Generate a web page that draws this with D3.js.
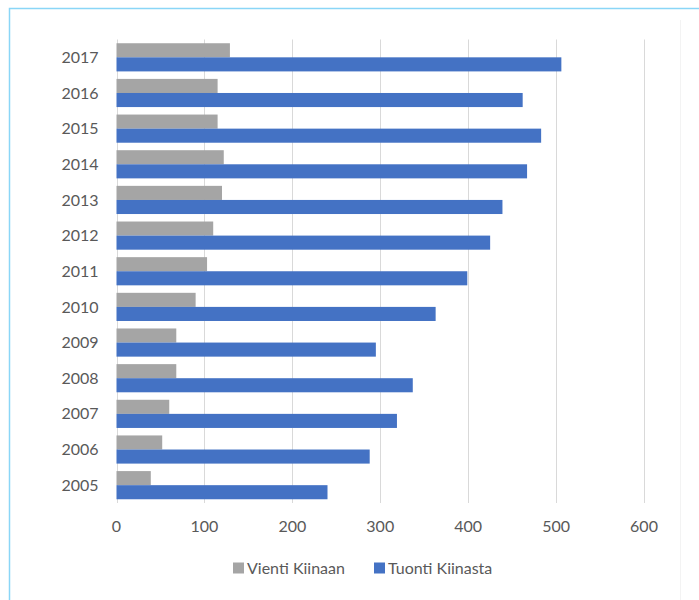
<!DOCTYPE html>
<html>
<head>
<meta charset="utf-8">
<script src="https://cdn.jsdelivr.net/npm/d3@7"></script>
<style>
  body { margin:0; background:#fff; }
  svg { display:block; }
</style>
</head>
<body>
<div id="chart"></div>
<script>
// years top to bottom, as in the picture
const years = ["2017","2016","2015","2014","2013","2012","2011","2010","2009","2008","2007","2006","2005"];
const vienti = [129, 115, 115, 122, 120, 110, 103, 90, 68, 68, 60, 52, 39];
const tuonti = [506, 462, 483, 467, 439, 425, 399, 363, 295, 337, 319, 288, 240];
const seriesNames = ["Vienti Kiinaan", "Tuonti Kiinasta"];
const seriesColors = ["#a5a5a5", "#4472c4"];
const xTicks = [0, 100, 200, 300, 400, 500, 600];

const W = 699, H = 600;
const font = "Lato, 'Open Sans', sans-serif";

const svg = d3.select("#chart").append("svg")
  .attr("width", W).attr("height", H);

// outer frame (only the top and left edges are in view)
svg.append("path")
  .attr("d", `M9.5,${H} V8.5 H${W}`)
  .attr("fill", "none")
  .attr("stroke", "#8ad6f7")
  .attr("stroke-width", 1.5);

svg.append("line")
  .attr("x1", 680.5).attr("x2", 680.5).attr("y1", 20).attr("y2", H)
  .attr("stroke", "#f3f3f3");

const x = d3.scaleLinear().domain([0, 600]).range([116.5, 644]);
const y = d3.scaleBand().domain(years).range([39.5, 503]).paddingInner(0.21).paddingOuter(0.105);
const ySub = d3.scaleBand().domain(seriesNames).range([0, y.bandwidth()]);

// gridlines
svg.append("g")
  .selectAll("line")
  .data(xTicks)
  .join("line")
  .attr("x1", d => Math.round(x(d)) + 0.5)
  .attr("x2", d => Math.round(x(d)) + 0.5)
  .attr("y1", 39.5).attr("y2", 503)
  .attr("stroke", "#d9d9d9")
  .attr("stroke-width", 1);

// bars
const rows = years.map((yr, i) => ({ yr, vals: [vienti[i], tuonti[i]] }));
const grp = svg.append("g").selectAll("g")
  .data(rows)
  .join("g")
  .attr("transform", d => `translate(0,${y(d.yr)})`);

grp.selectAll("rect")
  .data(d => d.vals.map((v, j) => ({ v, s: seriesNames[j], c: seriesColors[j] })))
  .join("rect")
  .attr("x", x(0))
  .attr("y", d => ySub(d.s))
  .attr("width", d => x(d.v) - x(0))
  .attr("height", ySub.bandwidth())
  .attr("fill", d => d.c);

// year labels
svg.append("g")
  .selectAll("text")
  .data(years)
  .join("text")
  .attr("x", 98.5)
  .attr("y", d => y(d) + y.bandwidth() / 2)
  .attr("dy", "0.35em")
  .attr("text-anchor", "end")
  .attr("font-family", font)
  .attr("font-size", 16)
  .attr("fill", "#595959")
  .text(d => d);

// x tick labels
svg.append("g")
  .selectAll("text")
  .data(xTicks)
  .join("text")
  .attr("x", d => x(d))
  .attr("y", 526)
  .attr("dy", "0.35em")
  .attr("text-anchor", "middle")
  .attr("font-family", font)
  .attr("font-size", 16)
  .attr("fill", "#595959")
  .text(d => d);

// legend
const legendX = [233, 374];
const lg = svg.append("g").selectAll("g")
  .data(seriesNames)
  .join("g")
  .attr("transform", (d, i) => `translate(${legendX[i]},568)`);
lg.append("rect")
  .attr("x", 0).attr("y", -5.5)
  .attr("width", 11).attr("height", 11)
  .attr("fill", (d, i) => seriesColors[i]);
lg.append("text")
  .attr("x", 14)
  .attr("dy", "0.35em")
  .attr("font-family", font)
  .attr("font-size", 16)
  .attr("fill", "#595959")
  .text(d => d);
</script>
</body>
</html>
